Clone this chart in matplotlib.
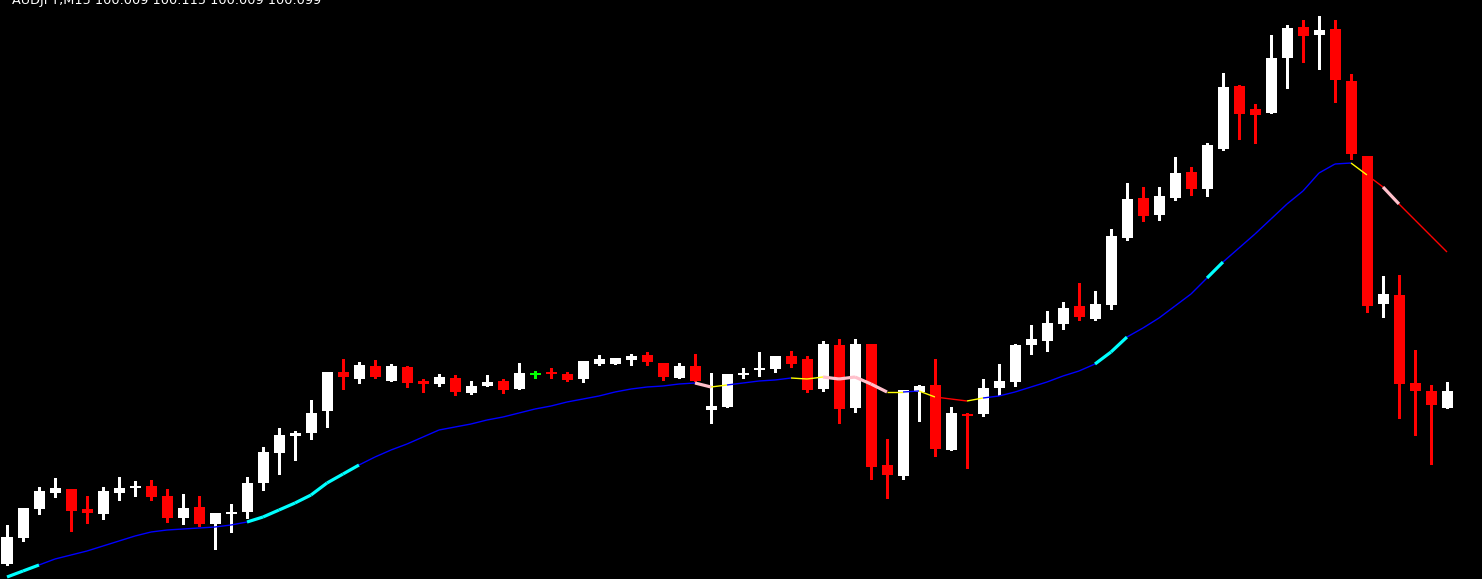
import numpy as np
import matplotlib
matplotlib.use("Agg")
import matplotlib.pyplot as plt
from matplotlib.collections import LineCollection

# AUDJPY M15 candles
opens = [100.036, 100.062, 100.091, 100.107, 100.111, 100.091, 100.086, 100.107, 100.112, 100.114,
         100.104, 100.082, 100.093, 100.076, 100.086, 100.088, 100.117, 100.147, 100.164, 100.167,
         100.189, 100.228, 100.221, 100.234, 100.219, 100.233, 100.219, 100.216, 100.222, 100.207,
         100.214, 100.219, 100.211, 100.226, 100.228, 100.226, 100.221, 100.236, 100.236, 100.240,
         100.245, 100.237, 100.222, 100.234, 100.190, 100.193, 100.225, 100.230, 100.231, 100.244,
         100.241, 100.211, 100.255, 100.192, 100.256, 100.135, 100.124, 100.208, 100.215, 100.150,
         100.186, 100.186, 100.212, 100.218, 100.255, 100.259, 100.276, 100.294, 100.281, 100.295,
         100.362, 100.402, 100.385, 100.402, 100.428, 100.411, 100.451, 100.514, 100.491, 100.487,
         100.542, 100.573, 100.565, 100.571, 100.519, 100.444, 100.296, 100.305, 100.217, 100.209,
         100.192]
highs = [100.075, 100.092, 100.113, 100.122, 100.111, 100.104, 100.113, 100.123, 100.119, 100.120,
         100.111, 100.106, 100.104, 100.087, 100.096, 100.123, 100.153, 100.172, 100.169, 100.200,
         100.228, 100.241, 100.238, 100.240, 100.236, 100.234, 100.221, 100.226, 100.225, 100.219,
         100.225, 100.221, 100.237, 100.229, 100.232, 100.228, 100.239, 100.245, 100.242, 100.246,
         100.248, 100.237, 100.237, 100.246, 100.227, 100.226, 100.232, 100.248, 100.244, 100.249,
         100.244, 100.259, 100.261, 100.261, 100.256, 100.161, 100.210, 100.215, 100.241, 100.193,
         100.187, 100.221, 100.236, 100.256, 100.275, 100.289, 100.298, 100.317, 100.309, 100.371,
         100.417, 100.413, 100.413, 100.443, 100.433, 100.457, 100.527, 100.515, 100.496, 100.565,
         100.575, 100.580, 100.584, 100.580, 100.526, 100.444, 100.324, 100.325, 100.250, 100.215,
         100.218]
lows = [100.035, 100.059, 100.086, 100.103, 100.069, 100.077, 100.081, 100.100, 100.104, 100.100,
        100.078, 100.076, 100.074, 100.051, 100.068, 100.082, 100.110, 100.126, 100.140, 100.161,
        100.173, 100.211, 100.217, 100.222, 100.219, 100.213, 100.208, 100.214, 100.205, 100.206,
        100.214, 100.207, 100.211, 100.222, 100.222, 100.219, 100.218, 100.235, 100.236, 100.235,
        100.235, 100.220, 100.222, 100.219, 100.177, 100.193, 100.222, 100.224, 100.228, 100.233,
        100.208, 100.209, 100.177, 100.188, 100.121, 100.102, 100.121, 100.179, 100.144, 100.150,
        100.132, 100.184, 100.205, 100.214, 100.246, 100.249, 100.271, 100.280, 100.280, 100.291,
        100.360, 100.379, 100.380, 100.400, 100.405, 100.404, 100.450, 100.461, 100.457, 100.487,
        100.512, 100.538, 100.531, 100.498, 100.441, 100.288, 100.283, 100.182, 100.165, 100.136,
        100.192]
closes = [100.063, 100.092, 100.109, 100.112, 100.089, 100.087, 100.109, 100.112, 100.114, 100.103,
          100.082, 100.092, 100.076, 100.087, 100.088, 100.117, 100.148, 100.165, 100.167, 100.187,
          100.228, 100.223, 100.235, 100.223, 100.234, 100.217, 100.216, 100.223, 100.208, 100.214,
          100.218, 100.210, 100.227, 100.226, 100.226, 100.220, 100.239, 100.241, 100.242, 100.244,
          100.238, 100.223, 100.234, 100.219, 100.194, 100.226, 100.227, 100.232, 100.244, 100.236,
          100.210, 100.256, 100.191, 100.256, 100.133, 100.125, 100.210, 100.214, 100.151, 100.187,
          100.184, 100.212, 100.219, 100.255, 100.261, 100.277, 100.292, 100.283, 100.296, 100.364,
          100.401, 100.384, 100.404, 100.427, 100.411, 100.455, 100.513, 100.486, 100.485, 100.542,
          100.572, 100.564, 100.570, 100.520, 100.446, 100.294, 100.306, 100.216, 100.209, 100.195,
          100.209]

# moving average values at each candle
ma = [100.023, 100.029, 100.035, 100.041, 100.045, 100.049, 100.054, 100.059, 100.064, 100.068,
      100.070, 100.071, 100.072, 100.073, 100.075, 100.078, 100.083, 100.090, 100.097, 100.105,
      100.117, 100.126, 100.135, 100.143, 100.150, 100.156, 100.163, 100.170, 100.173, 100.176,
      100.180, 100.183, 100.187, 100.191, 100.194, 100.198, 100.201, 100.204, 100.208, 100.211,
      100.213, 100.214, 100.216, 100.217, 100.213, 100.215, 100.217, 100.219, 100.220, 100.222,
      100.221, 100.223, 100.221, 100.223, 100.216, 100.208, 100.208, 100.209, 100.203, 100.201,
      100.199, 100.202, 100.204, 100.208, 100.213, 100.218, 100.224, 100.229, 100.236, 100.248,
      100.263, 100.272, 100.282, 100.294, 100.306, 100.322, 100.338, 100.352, 100.366, 100.381,
      100.396, 100.409, 100.427, 100.436, 100.437, 100.425, 100.413, 100.396, 100.380, 100.364,
      100.348]

# trend state of each MA segment, run-length: (state, number of segments)
ma_states = [("up2", 2), ("up", 13), ("up2", 7), ("up", 21), ("down2", 1), ("flat", 1),
             ("up", 4), ("flat", 2), ("down2", 4), ("flat", 1), ("up", 1), ("flat", 1),
             ("down", 2), ("flat", 1), ("up", 7), ("up2", 2), ("up", 5), ("up2", 1),
             ("up", 8), ("flat", 1), ("down", 1), ("down2", 1), ("down", 3)]

title = "AUDJPY,M15 100.009 100.115 100.009 100.099"

state_color = {"up": "#0000ff", "up2": "#00ffff", "flat": "#ffff00",
               "down": "#ff0000", "down2": "#ffc0cb"}
state_width = {"up": 1.0, "up2": 2.3, "flat": 1.0, "down": 1.0, "down2": 2.3}

W, H = 1482, 579
fig = plt.figure(figsize=(W / 100, H / 100), dpi=100, facecolor="black")
ax = fig.add_axes([0, 0, 1, 1])
ax.set_facecolor("black")

px = 1 / 16  # one pixel in candle units
x = np.arange(len(opens))
o = np.array(opens)
c = np.array(closes)
hi = np.array(highs)
lo = np.array(lows)

bull = c > o
bear = c < o
doji = c == o
body_w = 11 * px

# wicks
wick_cols = np.where(bull, "white", np.where(bear, "#ff0000", "#00ff00"))
ax.vlines(x, lo, hi, colors=list(wick_cols), linewidth=0.75, antialiased=False, zorder=2)

# bodies
ax.bar(x[bull], (c - o)[bull], bottom=o[bull], width=body_w, color="white",
       linewidth=0, antialiased=False, zorder=3)
ax.bar(x[bear], (o - c)[bear], bottom=c[bear], width=body_w, color="#ff0000",
       linewidth=0, antialiased=False, zorder=3)
ax.hlines(o[doji], x[doji] - body_w / 2, x[doji] + body_w / 2, colors="#00ff00",
          linewidth=1.2, antialiased=False, zorder=3)

# colored moving average
seg_states = [s for s, n in ma_states for _ in range(n)]
pts = np.column_stack([x, ma])
segs = np.stack([pts[:-1], pts[1:]], axis=1)
lc = LineCollection(segs, colors=[state_color[s] for s in seg_states],
                    linewidths=[state_width[s] for s in seg_states],
                    capstyle="butt", zorder=4)
ax.add_collection(lc)

ax.set_xlim(-7 * px, (W - 7) * px)
ax.set_ylim(100.021, 100.600)
ax.set_axis_off()

fig.text(12 / W, 1 - 4 / H, title, color="white", fontsize=9.3,
         family="DejaVu Sans", va="baseline", ha="left")

fig.savefig("out.png", dpi=100, facecolor="black")
